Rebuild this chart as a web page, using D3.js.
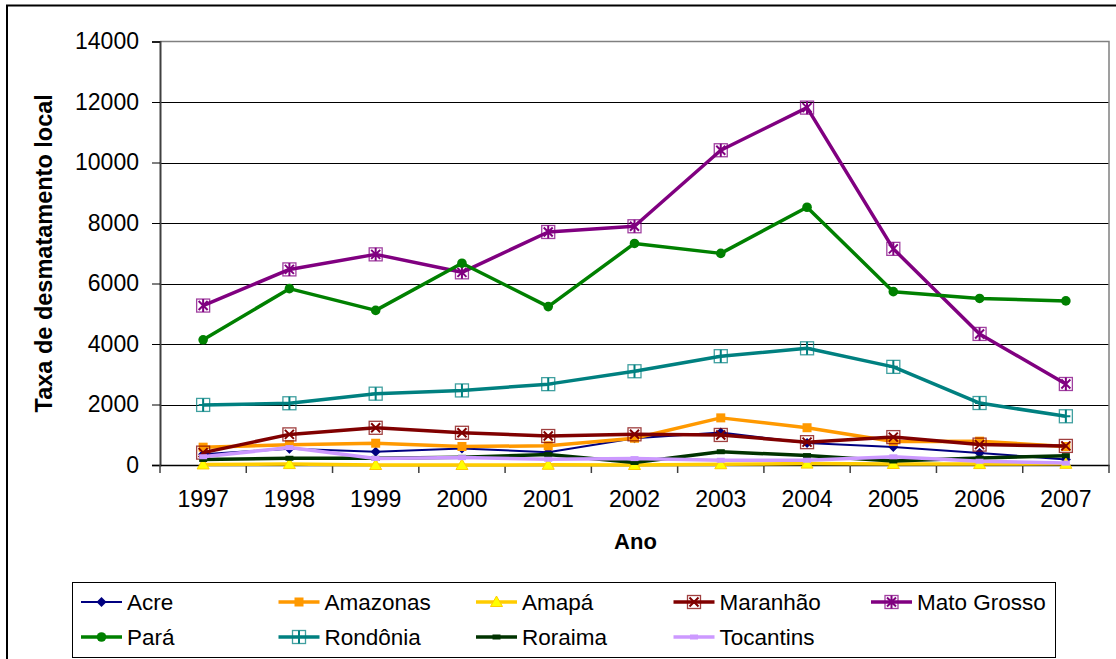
<!DOCTYPE html>
<html>
<head>
<meta charset="utf-8">
<script src="https://cdn.jsdelivr.net/npm/d3@7"></script>
<style>
  html, body { margin: 0; padding: 0; background: #fff; }
  svg { display: block; font-family: "Liberation Sans", Arial, sans-serif; }
</style>
</head>
<body>
<svg id="chart" width="1116" height="659"></svg>
<script>
const years = ["1997","1998","1999","2000","2001","2002","2003","2004","2005","2006","2007"];
const yTicks = [0, 2000, 4000, 6000, 8000, 10000, 12000, 14000];

const acre       = [358, 536, 441, 547, 419, 883, 1078, 728, 592, 398, 184];
const amazonas   = [589, 670, 720, 612, 634, 885, 1558, 1232, 775, 788, 610];
const amapa      = [18, 30, 0, 0, 7, 0, 25, 46, 33, 30, 39];
const maranhao   = [409, 1012, 1230, 1065, 958, 1014, 993, 755, 922, 674, 631];
const matoGrosso = [5271, 6466, 6963, 6369, 7703, 7892, 10405, 11814, 7145, 4333, 2678];
const para       = [4139, 5829, 5111, 6671, 5237, 7324, 6996, 8521, 5731, 5505, 5425];
const rondonia   = [1986, 2041, 2358, 2465, 2673, 3099, 3597, 3858, 3244, 2049, 1611];
const roraima    = [184, 223, 220, 253, 345, 84, 439, 311, 133, 231, 309];
const tocantins  = [273, 576, 216, 244, 189, 212, 156, 158, 271, 124, 63];

const seriesNames = ["Acre","Amazonas","Amapá","Maranhão","Mato Grosso","Pará","Rondônia","Roraima","Tocantins"];
const seriesValues = [acre, amazonas, amapa, maranhao, matoGrosso, para, rondonia, roraima, tocantins];

const styles = {
  "Acre":        {color: "#000080", width: 2,   marker: "diamond"},
  "Amazonas":    {color: "#FF9900", width: 3.5, marker: "square"},
  "Amapá":       {color: "#FFCC00", width: 3.5, marker: "triangle"},
  "Maranhão":    {color: "#800000", width: 3.5, marker: "xsquare"},
  "Mato Grosso": {color: "#800080", width: 3.5, marker: "starsquare"},
  "Pará":        {color: "#008000", width: 3.5, marker: "circle"},
  "Rondônia":    {color: "#008080", width: 3.5, marker: "plussquare"},
  "Roraima":     {color: "#003300", width: 3.5, marker: "dash"},
  "Tocantins":   {color: "#CC99FF", width: 3.5, marker: "dash"}
};

const svg = d3.select("#chart");
const L = 160, R = 1109, T = 41.5, B = 465;

const x = d3.scaleBand().domain(years).range([L, R]).padding(0);
const y = d3.scaleLinear().domain([0, 14000]).range([B, T]);
const cx = d => x(d) + x.bandwidth() / 2;

// outer frame
svg.append("rect").attr("x", 7).attr("y", 5.5).attr("width", 1120).attr("height", 700)
  .attr("fill", "none").attr("stroke", "#000").attr("stroke-width", 2);

// gridlines
svg.append("g").selectAll("line").data(yTicks.filter(v => v > 0 && v < 14000)).join("line")
  .attr("x1", L).attr("x2", R).attr("y1", d => Math.round(y(d)) + 0.5).attr("y2", d => Math.round(y(d)) + 0.5)
  .attr("stroke", "#000").attr("stroke-width", 1);

// plot border top/right
svg.append("path").attr("d", `M${L},${T}H${R}V${B}`).attr("fill", "none")
  .attr("stroke", "#808080").attr("stroke-width", 1.5);

// y axis
const yAxis = d3.axisLeft(y).tickValues(yTicks).tickSize(8).tickPadding(13).tickFormat(d3.format("d"));
const gy = svg.append("g").attr("transform", `translate(${L},0)`).call(yAxis);
gy.select(".domain").attr("stroke", "#404040").attr("stroke-width", 2);
gy.selectAll(".tick line").attr("stroke", "#000");
gy.selectAll(".tick text").attr("font-size", 23).attr("fill", "#000")
  .attr("font-family", "Liberation Sans, Arial, sans-serif");

// x axis
const xAxis = d3.axisBottom(x).tickSize(0).tickPadding(0);
const gx = svg.append("g").attr("transform", `translate(0,${B})`).call(xAxis);
gx.select(".domain").attr("stroke", "#000").attr("stroke-width", 1.5);
gx.selectAll(".tick text").attr("font-size", 23).attr("fill", "#000").attr("dy", 0).attr("y", 42)
  .attr("font-family", "Liberation Sans, Arial, sans-serif");
// category boundary ticks
const bounds = years.map(d => x(d)).concat([R]);
svg.append("g").selectAll("line").data(bounds).join("line")
  .attr("x1", d => d).attr("x2", d => d).attr("y1", B).attr("y2", B + 8)
  .attr("stroke", "#404040").attr("stroke-width", 1.5);

// axis titles
svg.append("text").attr("x", (L + R) / 2 + 1).attr("y", 549).attr("text-anchor", "middle")
  .attr("font-size", 22).attr("font-weight", "bold").text("Ano");
svg.append("text").attr("transform", `translate(52,${(T + B) / 2}) rotate(-90)`).attr("text-anchor", "middle")
  .attr("font-size", 23.5).attr("font-weight", "bold").text("Taxa de desmatamento local");

// marker drawing
function drawMarker(g, type, color, px, py, legend) {
  const s = 6.5;
  if (type === "diamond") {
    g.append("path").attr("d", `M${px},${py-5}L${px+5},${py}L${px},${py+5}L${px-5},${py}Z`).attr("fill", color);
  } else if (type === "square") {
    g.append("rect").attr("x", px-4.5).attr("y", py-4.5).attr("width", 9).attr("height", 9).attr("fill", color);
  } else if (type === "triangle") {
    g.append("path").attr("d", `M${px},${py-6}L${px+6},${py+4.5}L${px-6},${py+4.5}Z`)
      .attr("fill", "#FFFF00").attr("stroke", "#FFCC00").attr("stroke-width", 1);
  } else if (type === "circle") {
    g.append("circle").attr("cx", px).attr("cy", py).attr("r", 4.8).attr("fill", color);
  } else if (type === "dash") {
    g.append("line").attr("x1", px-4).attr("x2", px+4).attr("y1", py).attr("y2", py)
      .attr("stroke", color).attr("stroke-width", 5);
  } else {
    g.append("rect").attr("x", px-s).attr("y", py-s).attr("width", 2*s).attr("height", 2*s)
      .attr("fill", "none").attr("stroke", color).attr("stroke-width", 1.3).attr("stroke-opacity", 0.75);
    const i = s - 2;
    let d = "";
    if (type === "xsquare" || type === "starsquare") d += `M${px-i},${py-i}L${px+i},${py+i}M${px+i},${py-i}L${px-i},${py+i}`;
    if (type === "plussquare" || type === "starsquare") d += `M${px},${py-s}L${px},${py+s}`;
    if (type === "plussquare") d += `M${px-i},${py}L${px+i},${py}`;
    g.append("path").attr("d", d).attr("stroke", color).attr("stroke-width", 2).attr("fill", "none");
  }
}

// series
const line = d3.line().x((d, i) => cx(years[i])).y(d => y(d));
seriesNames.forEach((name, k) => {
  const st = styles[name];
  const g = svg.append("g");
  g.append("path").datum(seriesValues[k]).attr("d", line).attr("fill", "none")
    .attr("stroke", st.color).attr("stroke-width", st.width).attr("stroke-linejoin", "round");
  seriesValues[k].forEach((v, i) => drawMarker(g, st.marker, st.color, cx(years[i]), y(v)));
});

// legend
svg.append("rect").attr("x", 72.5).attr("y", 582.5).attr("width", 983).attr("height", 75)
  .attr("fill", "#fff").attr("stroke", "#000").attr("stroke-width", 1);
const lg = svg.append("g");
seriesNames.forEach((name, k) => {
  const st = styles[name];
  const col = k % 5, row = Math.floor(k / 5);
  const lx = 81 + col * 197.5, ly = 602 + row * 35;
  const g = lg.append("g");
  g.append("line").attr("x1", lx).attr("x2", lx + 41).attr("y1", ly).attr("y2", ly)
    .attr("stroke", st.color).attr("stroke-width", st.width);
  drawMarker(g, st.marker, st.color, lx + 20.5, ly, true);
  g.append("text").attr("x", lx + 46).attr("y", ly).attr("dy", "0.36em")
    .attr("font-size", 22.5).attr("fill", "#000").text(name);
});
</script>
</body>
</html>
